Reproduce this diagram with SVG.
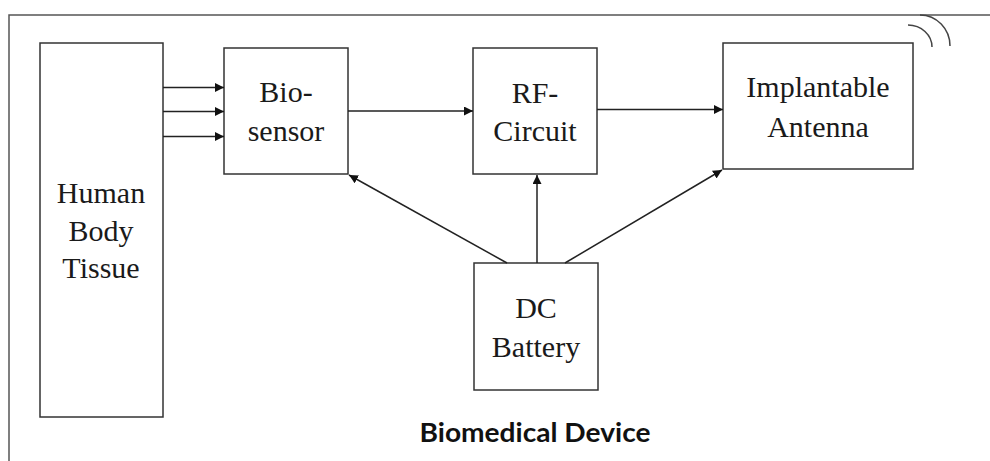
<svg xmlns="http://www.w3.org/2000/svg" width="990" height="461" viewBox="0 0 990 461">
<style>
.box{fill:#fff;stroke:#333;stroke-width:1.5}
.frame{fill:none;stroke:#555;stroke-width:1.5}
.con{stroke:#222;stroke-width:1.5;fill:none}
.wave{stroke:#444;stroke-width:1.5;fill:none}
.lbl{font-family:"Times New Roman",Times,"Liberation Serif","Noto Serif","DejaVu Serif",serif;font-size:30px;fill:#1a1a1a;text-anchor:middle}
</style>
<defs>
<marker id="ah" markerUnits="userSpaceOnUse" markerWidth="10" markerHeight="10" refX="9" refY="4.5" orient="auto">
<path d="M0,0 L9,4.5 L0,9 z" fill="#111"/>
</marker>
</defs>
<rect width="990" height="461" fill="#fff"/>
<g id="frame">
<path class="frame" d="M9,461 L9,15 L990,15"/>
</g>
<g id="human">
<rect class="box" x="40" y="43" width="123" height="374"/>
<text class="lbl" x="101" y="203">Human</text>
<text class="lbl" x="101" y="241">Body</text>
<text class="lbl" x="101" y="278">Tissue</text>
</g>
<g id="biosensor">
<rect class="box" x="224" y="48" width="124" height="126"/>
<text class="lbl" x="286" y="102">Bio-</text>
<text class="lbl" x="286" y="141">sensor</text>
</g>
<g id="rf">
<rect class="box" x="473" y="48" width="124" height="126"/>
<text class="lbl" x="535" y="103">RF-</text>
<text class="lbl" x="535" y="141">Circuit</text>
</g>
<g id="antenna">
<rect class="box" x="723" y="43" width="190" height="126"/>
<text class="lbl" x="818" y="97">Implantable</text>
<text class="lbl" x="818" y="137">Antenna</text>
<path class="wave" d="M908,25 A24,22 0 0 1 932,47"/>
<path class="wave" d="M920,15 A30,31 0 0 1 950,46"/>
</g>
<g id="battery">
<rect class="box" x="474" y="263" width="124" height="127"/>
<text class="lbl" x="536" y="318">DC</text>
<text class="lbl" x="536" y="357">Battery</text>
</g>
<g id="title">
<text x="535" y="442" font-family="Lato, 'Open Sans', sans-serif" font-weight="bold" font-size="26" fill="#111" text-anchor="middle" textLength="231" lengthAdjust="spacingAndGlyphs">Biomedical Device</text>
</g>
<g id="connectors">
<line class="con" x1="163" y1="87.5" x2="224" y2="87.5" marker-end="url(#ah)"/>
<line class="con" x1="163" y1="111.5" x2="224" y2="111.5" marker-end="url(#ah)"/>
<line class="con" x1="163" y1="136.5" x2="224" y2="136.5" marker-end="url(#ah)"/>
<line class="con" x1="348" y1="111" x2="473" y2="111" marker-end="url(#ah)"/>
<line class="con" x1="597" y1="109.5" x2="723" y2="109.5" marker-end="url(#ah)"/>
<line class="con" x1="507" y1="263" x2="349" y2="175" marker-end="url(#ah)"/>
<line class="con" x1="537" y1="263" x2="537" y2="175" marker-end="url(#ah)"/>
<line class="con" x1="565" y1="263" x2="722" y2="170" marker-end="url(#ah)"/>
</g>
</svg>
